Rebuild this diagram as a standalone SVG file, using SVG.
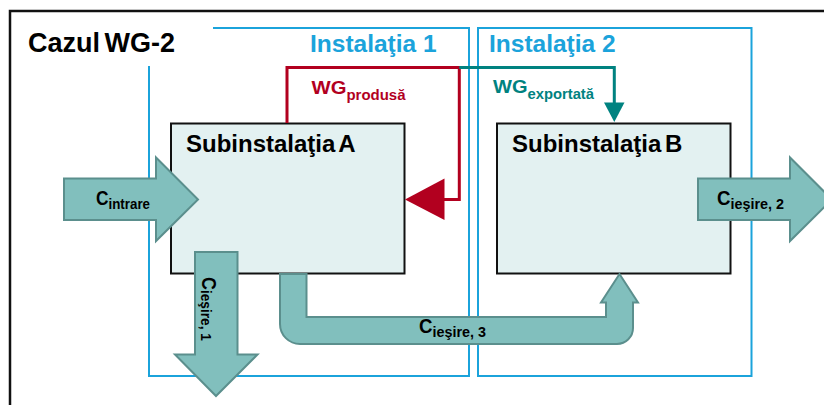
<svg xmlns="http://www.w3.org/2000/svg" width="824" height="405" viewBox="0 0 824 405">
<style>
.frame{fill:none;stroke:#111;stroke-width:2.5}
.inst{fill:none;stroke:#1ba3db;stroke-width:2}
.box{fill:#e3f1f1;stroke:#111;stroke-width:2}
.flow{fill:#81bfbd;stroke:#5b8f8d;stroke-width:2;stroke-linejoin:miter}
.t{font-family:"Liberation Sans",Arial,sans-serif;font-weight:bold}
.title{font-size:27px;fill:#000}
.itext{font-size:24.5px;fill:#1ba3db}
.btext{font-size:24px;fill:#000;word-spacing:-3px}
.ctext{font-size:19.5px;fill:#000}
.sub{font-size:14px}
.csub{font-size:15px}
.red{fill:#b2001f}
.teal{fill:#008280}
</style>
<rect class="frame" x="10" y="11" width="830" height="420"/>
<text class="t title" x="28" y="52" word-spacing="-3">Cazul WG-2</text>
<g id="instalatia1">
<path class="inst" d="M149,66 V376 H469 V28 H213"/>
<text class="t itext" x="310" y="52">Instalaţia 1</text>
</g>
<g id="instalatia2">
<rect class="inst" x="478" y="28" width="273.5" height="348"/>
<text class="t itext" x="489" y="52">Instalaţia 2</text>
</g>
<g id="subA">
<rect class="box" x="171" y="123.5" width="233.5" height="150"/>
<text class="t btext" x="186" y="152">Subinstalaţia A</text>
</g>
<g id="subB">
<rect class="box" x="497" y="123.5" width="233.5" height="150"/>
<text class="t btext" x="512" y="152">Subinstalaţia B</text>
</g>
<g id="connectors">
<path d="M287,123 V67.5 H459.3 V199.5 H440" fill="none" stroke="#b2001f" stroke-width="3"/>
<polygon points="405,199.5 444.5,178.5 444.5,220" fill="#b2001f"/>
<path d="M459.3,67.5 H614.3 V105" fill="none" stroke="#008280" stroke-width="3"/>
<polygon points="604,102.5 624.5,102.5 614.3,122" fill="#008280"/>
<polygon class="flow" points="64,178.5 156,178.5 156,157.5 198,199.5 156,241 156,220 64,220"/>
<polygon class="flow" points="698,178.5 790,178.5 790,157.5 832,199.5 790,241 790,220 698,220"/>
<polygon class="flow" points="195,252 237.5,252 237.5,354.5 257.5,354.5 216,396 175,354.5 195,354.5"/>
<path class="flow" d="M280,274 V324 A20,20 0 0 0 300,344 H617 A16,16 0 0 0 633,328 V302.5 H638 L619.5,274 L601,302.5 H606 V317 H306.5 V274 Z"/>
</g>
<g id="labels">
<text class="t red" x="311.5" y="94" font-size="19px" textLength="94" lengthAdjust="spacingAndGlyphs">WG<tspan class="sub" dy="5.5">produsă</tspan></text>
<text class="t teal" x="493" y="93" font-size="19px" textLength="101" lengthAdjust="spacingAndGlyphs">WG<tspan class="sub" dy="5.5">exportată</tspan></text>
<text class="t ctext" x="96" y="205" textLength="54" lengthAdjust="spacingAndGlyphs">C<tspan class="csub" dy="4">intrare</tspan></text>
<text class="t ctext" x="717" y="205" textLength="67" lengthAdjust="spacingAndGlyphs">C<tspan class="csub" dy="4">ieşire, 2</tspan></text>
<text class="t ctext" x="419" y="333" textLength="67" lengthAdjust="spacingAndGlyphs">C<tspan class="csub" dy="4">ieşire, 3</tspan></text>
<text class="t ctext" transform="translate(202,277) rotate(90)" x="0" y="0" textLength="64" lengthAdjust="spacingAndGlyphs">C<tspan class="csub" dy="1">ieşire, 1</tspan></text>
</g>
</svg>
